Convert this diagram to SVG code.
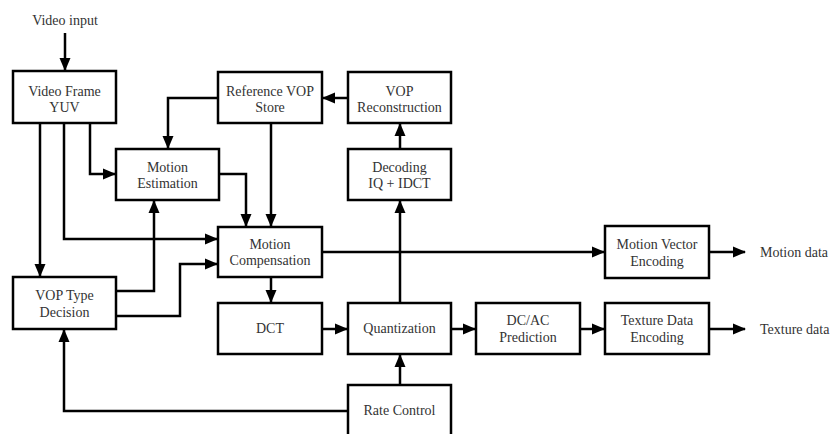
<svg xmlns="http://www.w3.org/2000/svg" width="830" height="434" viewBox="0 0 830 434">
<style>
.box{fill:#fff;stroke:#000;stroke-width:2.5}
.c{fill:none;stroke:#000;stroke-width:2.5}
text{font-family:"Times New Roman",Tinos,"Liberation Serif","DejaVu Serif","Noto Serif",FreeSerif,serif;font-size:14px;fill:#333;text-anchor:middle}
</style>
<defs>
<marker id="ah" markerWidth="13" markerHeight="12" viewBox="0 0 13 12" refX="12" refY="6" orient="auto" markerUnits="userSpaceOnUse">
<path d="M0,0.5 L13,6 L0,11.5 Z" fill="#000"/>
</marker>
</defs>
<rect width="830" height="434" fill="#fff"/>
<g id="connectors">
<path class="c" d="M65,33 V70" marker-end="url(#ah)"/>
<path class="c" d="M40,123 V276" marker-end="url(#ah)"/>
<path class="c" d="M64,123 V239 H217" marker-end="url(#ah)"/>
<path class="c" d="M90,123 V174 H115" marker-end="url(#ah)"/>
<path class="c" d="M218,98 H168 V148" marker-end="url(#ah)"/>
<path class="c" d="M271,123 V226" marker-end="url(#ah)"/>
<path class="c" d="M219,174 H246 V226" marker-end="url(#ah)"/>
<path class="c" d="M116,291 H154 V201" marker-end="url(#ah)"/>
<path class="c" d="M116,316 H180 V264 H217" marker-end="url(#ah)"/>
<path class="c" d="M271,277 V302" marker-end="url(#ah)"/>
<path class="c" d="M322,329 H347" marker-end="url(#ah)"/>
<path class="c" d="M451,329 H475" marker-end="url(#ah)"/>
<path class="c" d="M580,329 H604" marker-end="url(#ah)"/>
<path class="c" d="M709,329 H745" marker-end="url(#ah)"/>
<path class="c" d="M322,252 H604" marker-end="url(#ah)"/>
<path class="c" d="M709,252 H745" marker-end="url(#ah)"/>
<path class="c" d="M400,303 V201" marker-end="url(#ah)"/>
<path class="c" d="M400,149 V124" marker-end="url(#ah)"/>
<path class="c" d="M348,98 H323" marker-end="url(#ah)"/>
<path class="c" d="M400,385 V355" marker-end="url(#ah)"/>
<path class="c" d="M348,411 H64 V330" marker-end="url(#ah)"/>
</g>
<g id="video-input"><text x="65" y="25">Video input</text></g>
<g id="video-frame"><rect class="box" x="13" y="71" width="103" height="52"/><text x="64.5" y="96">Video Frame</text><text x="64.5" y="112">YUV</text></g>
<g id="ref-vop"><rect class="box" x="218" y="72" width="104" height="51"/><text x="270" y="96">Reference VOP</text><text x="270" y="112">Store</text></g>
<g id="vop-recon"><rect class="box" x="348" y="72" width="103" height="51"/><text x="399.5" y="96">VOP</text><text x="399.5" y="112">Reconstruction</text></g>
<g id="motion-est"><rect class="box" x="116" y="149" width="103" height="51"/><text x="167.5" y="172">Motion</text><text x="167.5" y="188">Estimation</text></g>
<g id="decoding"><rect class="box" x="348" y="149" width="103" height="51"/><text x="399.5" y="172">Decoding</text><text x="399.5" y="188">IQ + IDCT</text></g>
<g id="motion-comp"><rect class="box" x="218" y="227" width="104" height="50"/><text x="270" y="249">Motion</text><text x="270" y="265">Compensation</text></g>
<g id="mv-enc"><rect class="box" x="605" y="226" width="104" height="52"/><text x="657" y="249">Motion Vector</text><text x="657" y="266">Encoding</text></g>
<g id="motion-data"><text x="760" y="257" style="text-anchor:start">Motion data</text></g>
<g id="vop-type"><rect class="box" x="13" y="277" width="103" height="52"/><text x="64.5" y="300">VOP Type</text><text x="64.5" y="317">Decision</text></g>
<g id="dct"><rect class="box" x="218" y="303" width="104" height="51"/><text x="270" y="333">DCT</text></g>
<g id="quant"><rect class="box" x="348" y="303" width="103" height="51"/><text x="399.5" y="333">Quantization</text></g>
<g id="dcac"><rect class="box" x="476" y="303" width="104" height="51"/><text x="528" y="325">DC/AC</text><text x="528" y="342">Prediction</text></g>
<g id="texture-enc"><rect class="box" x="605" y="303" width="104" height="51"/><text x="657" y="325">Texture Data</text><text x="657" y="342">Encoding</text></g>
<g id="texture-data"><text x="760" y="334" style="text-anchor:start">Texture data</text></g>
<g id="rate-control"><rect class="box" x="348" y="385" width="103" height="60"/><text x="399.5" y="415">Rate Control</text></g>
</svg>
